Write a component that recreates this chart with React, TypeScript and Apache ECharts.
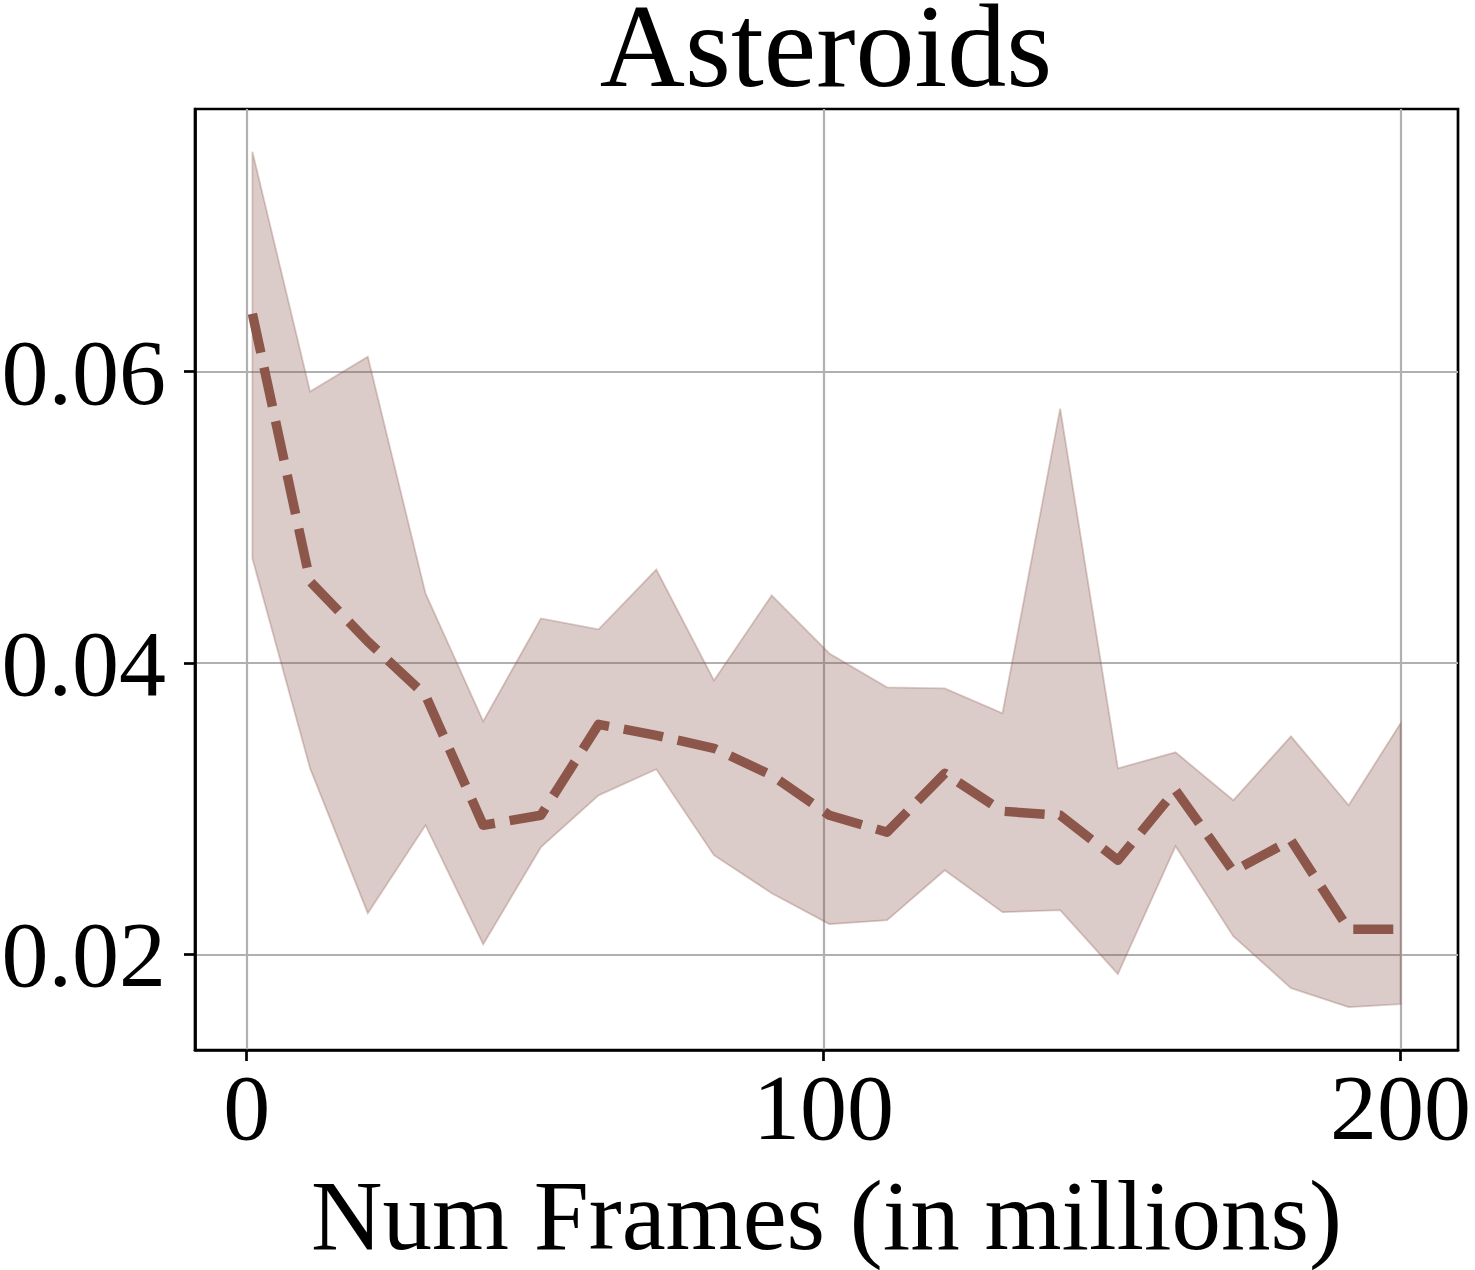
import React, { useEffect, useRef } from "react";
import * as echarts from "echarts";

const titleText = "Asteroids";
const xAxisLabel = "Num Frames (in millions)";

const xFrames = [1, 11, 21, 31, 41, 51, 61, 71, 81, 91, 101, 111, 121, 131, 141, 151, 161, 171, 181, 191, 200];
const meanVals = [
  0.06398, 0.0456, 0.04148, 0.03778, 0.02887, 0.02955, 0.03579, 0.03504, 0.03415, 0.0323, 0.02955,
  0.02839, 0.03243, 0.02983, 0.02955, 0.02647, 0.03127, 0.02571, 0.02784, 0.02173, 0.02173,
];
const upperVals = [
  0.07509, 0.05863, 0.06103, 0.04478, 0.036, 0.04306, 0.04231, 0.04642, 0.03881, 0.04464, 0.04066,
  0.03833, 0.03826, 0.03655, 0.05746, 0.03277, 0.03387, 0.03058, 0.03497, 0.03024, 0.03586,
];
const lowerVals = [
  0.04718, 0.03277, 0.02283, 0.02887, 0.0207, 0.02736, 0.03092, 0.03271, 0.02681, 0.0242, 0.02208,
  0.02235, 0.02578, 0.0229, 0.02304, 0.01865, 0.02743, 0.02125, 0.01769, 0.01638, 0.01659,
];
const xTicks = [0, 100, 200];
const yTicks = [0.02, 0.04, 0.06];

const BROWN = "#8c564b";
const BAND = "rgba(140,86,75,0.3)";
const FONT = "Liberation Serif";

export default function App() {
  const ref = useRef<HTMLDivElement>(null);

  useEffect(() => {
    if (!ref.current) return;
    const chart = echarts.init(ref.current, null, { renderer: "svg" });
    const bandData = xFrames.map((x, i) => [x, lowerVals[i], upperVals[i]]);
    const meanData = xFrames.map((x, i) => [x, meanVals[i]]);

    chart.setOption({
      animation: false,
      backgroundColor: "#ffffff",
      title: {
        text: titleText,
        left: 826,
        top: 6,
        padding: 0,
        textAlign: "center",
        textStyle: { fontFamily: FONT, fontSize: 118, lineHeight: 80, fontWeight: "normal", color: "#000" },
      },
      grid: {
        left: 195,
        right: 17,
        top: 109,
        bottom: 220,
        show: true,
        borderColor: "#000",
        borderWidth: 2.7,
        backgroundColor: "transparent",
        containLabel: false,
        outerBoundsMode: "none",
      },
      xAxis: {
        type: "value",
        min: -8.95,
        max: 209.95,
        name: xAxisLabel,
        nameLocation: "middle",
        nameGap: 116,
        nameTextStyle: { fontFamily: FONT, fontSize: 99, color: "#000" },
        axisLine: { show: true, onZero: false, lineStyle: { color: "#000", width: 2.7 } },
        axisTick: { show: true, inside: false, length: 11, customValues: xTicks, lineStyle: { color: "#000", width: 2.7 } },
        axisLabel: { customValues: xTicks, margin: 10, fontFamily: FONT, fontSize: 94, color: "#000" },
        splitLine: { show: true, lineStyle: { color: "#b0b0b0", width: 2.2 } },
      },
      yAxis: {
        type: "value",
        min: 0.01344,
        max: 0.07803,
        axisLine: { show: true, onZero: false, lineStyle: { color: "#000", width: 2.7 } },
        axisTick: { show: true, inside: false, length: 11, customValues: yTicks, lineStyle: { color: "#000", width: 2.7 } },
        axisLabel: {
          customValues: yTicks,
          margin: 29,
          fontFamily: FONT,
          fontSize: 94,
          color: "#000",
          formatter: (v: number) => v.toFixed(2),
        },
        splitLine: { show: true, lineStyle: { color: "#b0b0b0", width: 2.2 } },
      },
      series: [
        {
          type: "custom",
          name: "band",
          data: bandData,
          z: 2,
          clip: true,
          renderItem: (params: any, api: any) => {
            if (params.dataIndex !== 0) return null;
            const upperPts = bandData.map((d) => api.coord([d[0], d[2]]));
            const lowerPts = bandData.map((d) => api.coord([d[0], d[1]])).reverse();
            return {
              type: "polygon",
              shape: { points: upperPts.concat(lowerPts) },
              style: { fill: BAND, stroke: BAND, lineWidth: 1.8, lineJoin: "miter" },
            };
          },
        },
        {
          type: "line",
          name: "mean",
          data: meanData,
          symbol: "none",
          lineStyle: { color: BROWN, width: 9.5, type: [40, 15], cap: "butt", join: "round" },
          z: 3,
        },
      ],
    });
    return () => chart.dispose();
  }, []);

  return (
    <div
      ref={ref}
      style={{ position: "fixed", left: 0, top: 0, width: 1475, height: 1270, background: "#fff" }}
    />
  );
}
